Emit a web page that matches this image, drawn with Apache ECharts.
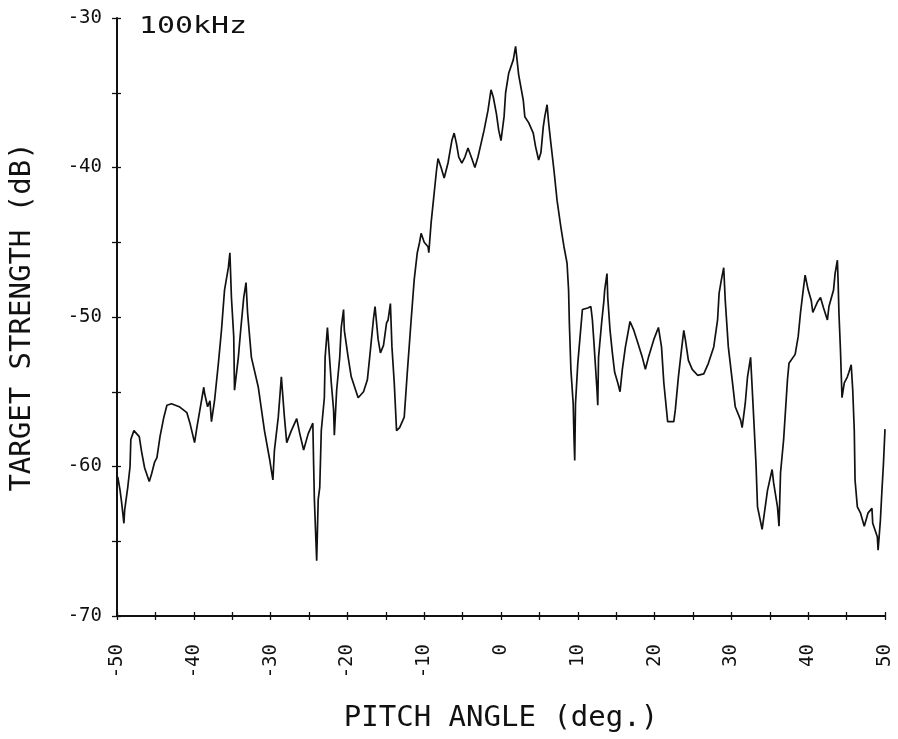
<!DOCTYPE html>
<html>
<head>
<meta charset="utf-8">
<script src="https://cdn.jsdelivr.net/npm/echarts@6/dist/echarts.min.js"></script>
<style>
html,body{margin:0;padding:0;background:#fff;}
#chart{width:898px;height:739px;}
</style>
</head>
<body>
<div id="chart"></div>
<script>
// Pitch angle (deg.) samples
var pitchAngles = [
-49.9,-49.6,-49.4,-49.1,-49.0,-48.6,-48.3,-48.2,-47.8,-47.1,-46.8,-46.4,-45.8,-45.5,-45.1,-44.8,-44.4,-43.9,-43.5,-42.9,
-41.9,-40.9,-40.5,-39.9,-39.6,-39.2,-38.7,-38.6,-38.2,-37.9,-37.7,-37.3,-36.8,-36.4,-36.0,-35.5,-35.3,-35.1,-34.8,-34.7,
-34.2,-33.9,-33.5,-33.2,-33.0,-32.5,-31.6,-30.8,-30.1,-29.7,-29.5,-29.0,-28.6,-28.2,-27.9,-27.3,-26.6,-26.2,-25.7,-25.1,
-24.5,-24.4,-24.3,-24.0,-23.8,-23.6,-23.4,-23.0,-22.9,-22.6,-22.3,-22.1,-21.8,-21.7,-21.4,-21.0,-20.8,-20.5,-20.4,-19.9,
-19.5,-18.6,-17.9,-17.4,-17.1,-16.6,-16.4,-16.0,-15.7,-15.3,-14.9,-14.7,-14.4,-14.2,-13.9,-13.6,-13.2,-12.6,-12.2,-11.7,
-11.3,-10.9,-10.6,-10.4,-10.0,-9.5,-9.4,-9.1,-8.7,-8.4,-8.2,-7.8,-7.4,-6.9,-6.4,-6.1,-5.8,-5.5,-5.1,-4.7,
-4.3,-3.8,-3.4,-3.0,-2.6,-2.2,-1.7,-1.3,-1.0,-0.6,-0.3,0.0,0.4,0.6,1.0,1.6,1.9,2.3,2.9,3.1,
3.6,4.2,4.5,4.9,5.2,5.5,5.7,6.0,6.2,6.5,6.9,7.3,7.8,8.2,8.6,8.8,8.9,9.1,9.4,9.5,
9.6,9.7,10.0,10.3,10.6,11.3,11.7,11.9,12.1,12.5,12.6,12.7,13.1,13.4,13.5,13.8,13.9,14.2,14.5,14.8,
15.2,15.5,15.8,16.2,16.8,17.3,17.8,18.4,18.8,19.2,19.9,20.5,20.9,21.2,21.7,22.5,22.7,23.1,23.5,23.8,
24.0,24.4,24.9,25.6,26.4,27.0,27.7,28.2,28.4,28.7,29.0,29.2,29.6,30.1,30.5,31.2,31.4,31.8,32.1,32.5,
32.7,32.9,33.2,33.4,34.0,34.7,35.3,35.5,36.0,36.2,36.4,36.8,37.3,37.5,38.3,38.7,39.0,39.4,39.6,40.0,
40.4,40.6,41.2,41.6,42.0,42.5,42.7,43.3,43.5,43.8,43.9,44.0,44.2,44.4,44.7,45.1,45.3,45.6,45.8,46.0,
46.1,46.4,46.8,47.3,47.8,48.3,48.4,49.0,49.1,49.4,49.6,49.8,50.0
];
// Target strength (dB)
var targetStrength = [
-60.7,-61.6,-62.4,-63.8,-62.9,-61.4,-60.0,-58.2,-57.6,-58.0,-59.0,-60.1,-61.0,-60.5,-59.7,-59.4,-58.0,-56.7,-55.9,-55.8,
-56.0,-56.4,-57.1,-58.4,-57.4,-56.2,-54.7,-55.1,-56.0,-55.6,-57.0,-55.6,-53.1,-50.9,-48.2,-46.7,-45.7,-48.7,-51.3,-54.9,
-52.7,-50.9,-48.7,-47.7,-49.7,-52.7,-54.7,-57.6,-59.6,-60.9,-58.9,-56.7,-54.0,-56.7,-58.4,-57.6,-56.8,-57.8,-58.9,-57.8,
-57.1,-59.8,-62.2,-66.3,-62.2,-61.4,-57.6,-55.4,-52.7,-50.7,-52.9,-54.4,-56.2,-57.9,-54.9,-52.7,-50.7,-49.5,-50.9,-52.7,
-54.0,-55.4,-55.0,-54.2,-52.7,-50.1,-49.3,-51.5,-52.4,-51.9,-50.4,-50.2,-49.1,-52.0,-54.4,-57.6,-57.4,-56.7,-53.7,-50.2,
-47.5,-45.7,-45.0,-44.4,-45.0,-45.3,-45.7,-43.7,-41.7,-40.2,-39.4,-40.0,-40.7,-39.7,-38.2,-37.7,-38.4,-39.3,-39.7,-39.3,
-38.7,-39.4,-40.0,-39.3,-38.4,-37.5,-36.2,-34.8,-35.3,-36.4,-37.5,-38.2,-36.6,-35.0,-33.7,-32.8,-31.9,-33.8,-35.5,-36.6,
-37.0,-37.7,-38.6,-39.5,-39.0,-37.3,-36.6,-35.8,-37.0,-38.4,-40.2,-42.2,-44.0,-45.3,-46.4,-48.2,-50.4,-53.5,-55.8,-58.0,
-59.6,-55.8,-53.1,-51.3,-49.5,-49.4,-49.3,-50.2,-51.7,-54.9,-55.9,-52.7,-50.4,-48.9,-48.2,-47.1,-48.7,-50.9,-52.4,-53.7,
-54.4,-55.0,-53.5,-52.0,-50.3,-50.9,-51.7,-52.7,-53.5,-52.7,-51.5,-50.7,-52.0,-54.4,-57.0,-57.0,-56.2,-54.0,-52.2,-50.9,
-51.5,-52.9,-53.5,-53.9,-53.8,-53.1,-52.0,-50.2,-48.4,-47.5,-46.7,-48.9,-52.0,-54.2,-56.0,-56.9,-57.4,-55.8,-54.0,-52.7,
-54.7,-56.7,-59.8,-62.7,-64.2,-61.6,-60.2,-61.1,-62.7,-64.0,-60.4,-58.2,-54.2,-53.1,-52.5,-51.3,-49.7,-48.0,-47.2,-48.2,
-48.9,-49.7,-49.0,-48.7,-49.4,-50.2,-49.3,-48.2,-47.1,-46.2,-47.7,-49.7,-52.2,-55.4,-54.4,-54.0,-53.7,-53.2,-54.9,-57.6,
-60.9,-62.7,-63.1,-64.0,-63.1,-62.8,-63.8,-64.7,-65.6,-63.6,-61.6,-59.8,-57.5
];
var xTickValues = [-50,-40,-30,-20,-10,0,10,20,30,40,50];
var yTickValues = [-70,-60,-50,-40,-30];
var xTitle = 'PITCH ANGLE (deg.)';
var yTitle = 'TARGET STRENGTH (dB)';
var freqLabel = '100kHz';

var seriesData = pitchAngles.map(function (a, i) { return [a, targetStrength[i]]; });
var FONT = '"DejaVu Sans Mono", "Liberation Mono", monospace';
var INK = '#111';
var TK = 4; // half length of the crossing ticks

var chart = echarts.init(document.getElementById('chart'), null, {renderer: 'canvas'});
chart.setOption({
  backgroundColor: '#ffffff',
  animation: false,
  grid: {left: 117, right: 13, top: 18, bottom: 123, containLabel: false},
  xAxis: [{
    // ticks + labels, shifted inward so the ticks cross the axis line
    type: 'value', min: -50, max: 50, interval: 5,
    position: 'bottom', offset: -TK,
    axisLine: {show: false, onZero: false},
    axisTick: {show: true, inside: false, length: 2 * TK, lineStyle: {color: INK, width: 1.3}},
    splitLine: {show: false},
    axisLabel: {
      rotate: 90, margin: 28 + TK, color: INK, fontFamily: FONT, fontSize: 19,
      formatter: function (v) { return xTickValues.indexOf(v) >= 0 ? String(v) : ''; }
    },
    name: xTitle, nameLocation: 'middle', nameGap: 88 + TK,
    nameTextStyle: {color: INK, fontFamily: FONT, fontSize: 29}
  }, {
    // axis line
    type: 'value', min: -50, max: 50, interval: 5,
    position: 'bottom', offset: 0,
    axisLine: {show: true, onZero: false, lineStyle: {color: INK, width: 2}},
    axisTick: {show: false},
    splitLine: {show: false},
    axisLabel: {show: false}
  }],
  yAxis: [{
    type: 'value', min: -70, max: -30, interval: 5,
    position: 'left', offset: -TK,
    axisLine: {show: false, onZero: false},
    axisTick: {show: true, inside: false, length: 2 * TK + 1, lineStyle: {color: INK, width: 1.3}},
    splitLine: {show: false},
    axisLabel: {
      margin: 15 + TK, color: INK, fontFamily: FONT, fontSize: 19,
      formatter: function (v) { return yTickValues.indexOf(v) >= 0 ? String(v) : ''; }
    },
    name: yTitle, nameLocation: 'middle', nameGap: 80 + TK,
    nameTextStyle: {color: INK, fontFamily: FONT, fontSize: 29}
  }, {
    type: 'value', min: -70, max: -30, interval: 5,
    position: 'left', offset: 0,
    axisLine: {show: true, onZero: false, lineStyle: {color: INK, width: 2}},
    axisTick: {show: false},
    splitLine: {show: false},
    axisLabel: {show: false}
  }],
  graphic: [{
    type: 'text', left: 139, top: 16, scaleX: 1.3,
    style: {text: freqLabel, fill: INK, font: '23px ' + FONT}
  }],
  series: [{
    type: 'line', xAxisIndex: 0, yAxisIndex: 0,
    data: seriesData, showSymbol: false, symbol: 'none',
    lineStyle: {color: INK, width: 1.7}, clip: true
  }]
});
</script>
</body>
</html>
